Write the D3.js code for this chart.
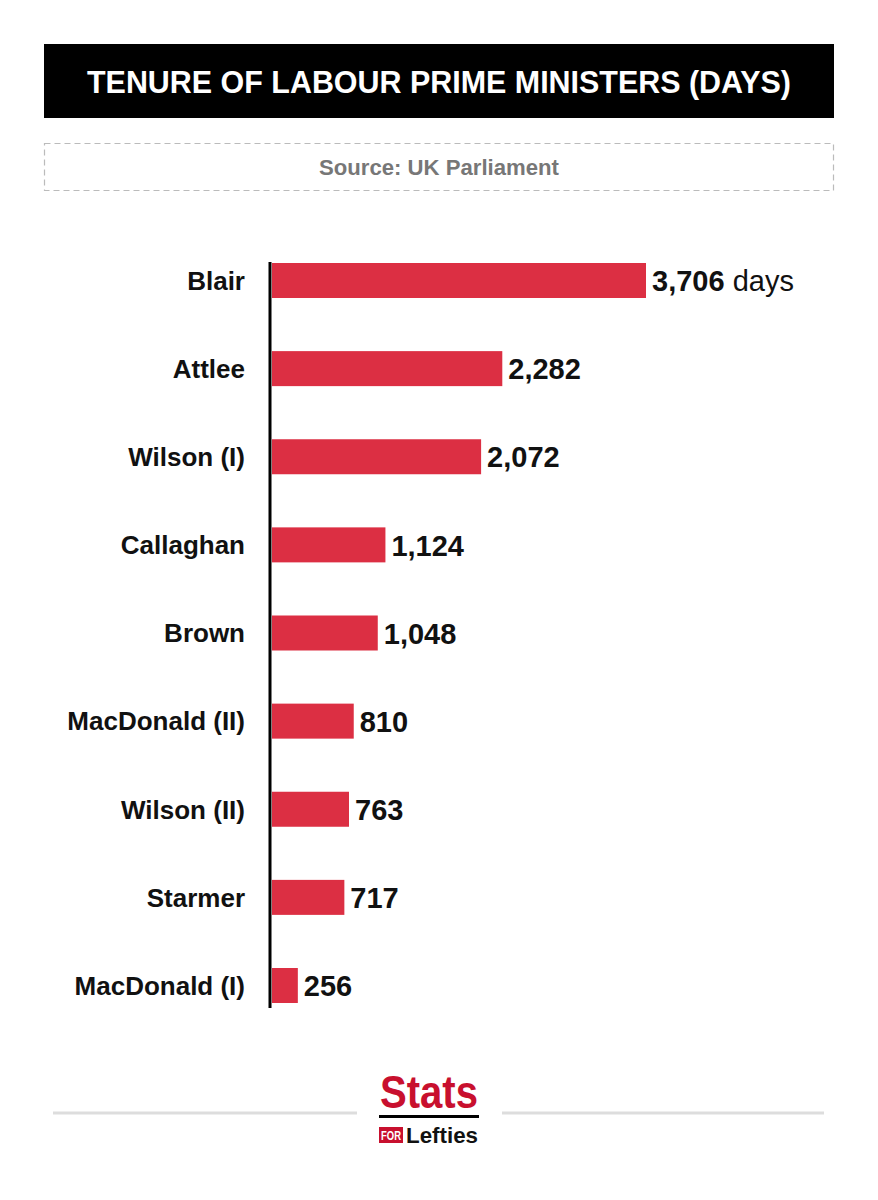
<!DOCTYPE html>
<html>
<head>
<meta charset="utf-8">
<script src="https://cdn.jsdelivr.net/npm/d3@7"></script>
<style>
  body { margin: 0; background: #fff; }
  svg { display: block; font-family: "Liberation Sans", Arial, sans-serif; }
</style>
</head>
<body>
<svg id="chart" width="878" height="1200"></svg>
<script>
const names = ["Blair", "Attlee", "Wilson (I)", "Callaghan", "Brown", "MacDonald (II)", "Wilson (II)", "Starmer", "MacDonald (I)"];
const days = [3706, 2282, 2072, 1124, 1048, 810, 763, 717, 256];

const svg = d3.select("#chart");
const W = 878;

// title banner
svg.append("rect").attr("x", 44).attr("y", 44).attr("width", 790).attr("height", 74).attr("fill", "#000");
svg.append("text")
  .attr("x", W / 2).attr("y", 93)
  .attr("text-anchor", "middle")
  .attr("fill", "#fff")
  .attr("font-weight", "bold")
  .attr("font-size", 32)
  .attr("textLength", 704)
  .attr("lengthAdjust", "spacingAndGlyphs")
  .text("TENURE OF LABOUR PRIME MINISTERS (DAYS)");

// source box
svg.append("rect").attr("x", 44.5).attr("y", 143.5).attr("width", 789).attr("height", 47)
  .attr("fill", "none").attr("stroke", "#bbb").attr("stroke-width", 1.2).attr("stroke-dasharray", "6,4");
svg.append("text")
  .attr("x", W / 2).attr("y", 175)
  .attr("text-anchor", "middle")
  .attr("fill", "#777")
  .attr("font-weight", "bold")
  .attr("font-size", 22)
  .attr("textLength", 240)
  .attr("lengthAdjust", "spacingAndGlyphs")
  .text("Source: UK Parliament");

// scales
const x0 = 272;
const x = d3.scaleLinear().domain([0, 3706]).range([x0, 646]);
const step = 88.125, barH = 35;
const pin = 1 - barH / step;
const y = d3.scaleBand().domain(names)
  .range([263 - pin / 2 * step, 263 - pin / 2 * step + names.length * step])
  .paddingInner(pin).paddingOuter(pin / 2);

const g = svg.append("g");

g.selectAll("rect.bar")
  .data(names)
  .join("rect")
  .attr("class", "bar")
  .attr("x", x0)
  .attr("y", d => y(d))
  .attr("width", (d, i) => x(days[i]) - x0)
  .attr("height", y.bandwidth())
  .attr("fill", "#dc2f43");

// axis line
svg.append("line").attr("x1", 270).attr("x2", 270).attr("y1", 262).attr("y2", 1008)
  .attr("stroke", "#000").attr("stroke-width", 3);

// category labels
g.selectAll("text.name")
  .data(names)
  .join("text")
  .attr("class", "name")
  .attr("x", 245)
  .attr("y", d => y(d) + y.bandwidth() / 2)
  .attr("dy", "0.36em")
  .attr("text-anchor", "end")
  .attr("font-weight", "bold")
  .attr("font-size", 26)
  .attr("fill", "#111")
  .text(d => d);

// value labels
const fmt = d3.format(",");
const vl = g.selectAll("text.val")
  .data(names)
  .join("text")
  .attr("class", "val")
  .attr("x", (d, i) => x(days[i]) + 6)
  .attr("y", d => y(d) + y.bandwidth() / 2)
  .attr("dy", "0.37em")
  .attr("font-size", 29)
  .attr("fill", "#111");
vl.append("tspan").attr("font-weight", "bold").text((d, i) => fmt(days[i]));
vl.filter((d, i) => i === 0).append("tspan").attr("font-weight", "normal").text(" days");

// footer
svg.append("line").attr("x1", 53).attr("x2", 357).attr("y1", 1113).attr("y2", 1113).attr("stroke", "#ddd").attr("stroke-width", 3);
svg.append("line").attr("x1", 502).attr("x2", 824).attr("y1", 1113).attr("y2", 1113).attr("stroke", "#ddd").attr("stroke-width", 3);

svg.append("text")
  .attr("x", 429).attr("y", 1108)
  .attr("text-anchor", "middle")
  .attr("fill", "#c8102e")
  .attr("font-weight", "bold")
  .attr("font-size", 46)
  .attr("textLength", 98)
  .attr("lengthAdjust", "spacingAndGlyphs")
  .text("Stats");
svg.append("rect").attr("x", 379).attr("y", 1115).attr("width", 100).attr("height", 3).attr("fill", "#000");
svg.append("rect").attr("x", 379).attr("y", 1127).attr("width", 24).attr("height", 16).attr("fill", "#c8102e");
svg.append("text")
  .attr("x", 391).attr("y", 1140)
  .attr("text-anchor", "middle")
  .attr("fill", "#fff")
  .attr("font-weight", "bold")
  .attr("font-size", 12)
  .attr("textLength", 20)
  .attr("lengthAdjust", "spacingAndGlyphs")
  .text("FOR");
svg.append("text")
  .attr("x", 406).attr("y", 1143)
  .attr("fill", "#111")
  .attr("font-weight", "bold")
  .attr("font-size", 22)
  .attr("textLength", 72)
  .attr("lengthAdjust", "spacingAndGlyphs")
  .text("Lefties");
</script>
</body>
</html>
